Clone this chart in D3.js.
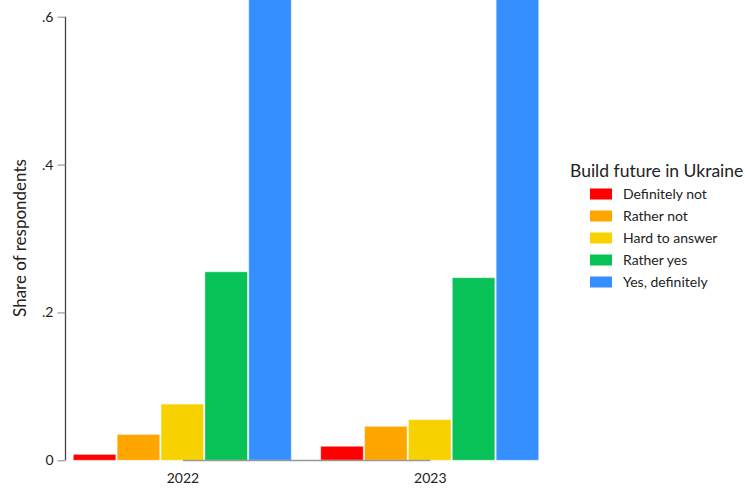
<!DOCTYPE html>
<html><head><meta charset="utf-8">
<script src="https://cdn.jsdelivr.net/npm/d3@7"></script>
<style>body{margin:0;background:#fff}svg{display:block}text{font-family:Lato,"Open Sans",sans-serif;fill:#222}</style>
</head><body>
<script>
const years = ["2022", "2023"];
const categories = ["Definitely not", "Rather not", "Hard to answer", "Rather yes", "Yes, definitely"];
const values2022 = [0.008, 0.035, 0.076, 0.255, 0.626];
const values2023 = [0.019, 0.046, 0.055, 0.247, 0.633];
const colors = ["#ff0000", "#ffa500", "#f8d100", "#08c157", "#358fff"];
const yTicks = [0, 0.2, 0.4, 0.6];
const yTickLabels = ["0", ".2", ".4", ".6"];
const seriesByYear = {"2022": values2022, "2023": values2023};

const W = 745, H = 489;
const svg = d3.select("body").append("svg").attr("width", W).attr("height", H);

const x0 = d3.scaleBand().domain(years).range([73.3, 540]).paddingInner(0.1136).paddingOuter(0);
const x1 = d3.scaleBand().domain(categories).range([0, x0.bandwidth()]).padding(0);
const y = d3.scaleLinear().domain([0, 0.6]).range([460.3, 16.7]);
const color = d3.scaleOrdinal().domain(categories).range(colors);

// bars
const groups = svg.append("g").selectAll("g").data(years).join("g")
  .attr("transform", d => `translate(${x0(d)},0)`);
groups.selectAll("rect").data(yr => categories.map((c, i) => ({c, v: seriesByYear[yr][i]})))
  .join("rect")
  .attr("x", d => x1(d.c))
  .attr("width", x1.bandwidth() - 1.3)
  .attr("y", d => y(d.v))
  .attr("height", d => y(0) - y(d.v))
  .attr("fill", d => color(d.c))
  .attr("stroke", "rgba(255,255,255,0.45)")
  .attr("stroke-width", 1);

// x axis line between category ticks
const xc = d => x0(d) + x0.bandwidth() / 2;
svg.append("line")
  .attr("x1", xc(years[0])).attr("x2", xc(years[1]))
  .attr("y1", 460.5).attr("y2", 460.5)
  .attr("stroke", "#999").attr("stroke-width", 1.5);
svg.append("g").selectAll("text").data(years).join("text")
  .attr("x", d => xc(d)).attr("y", 483)
  .attr("text-anchor", "middle").attr("font-size", 14)
  .text(d => d);

// y axis
const yAxis = d3.axisLeft(y).tickValues(yTicks).tickFormat((d, i) => yTickLabels[i]).tickSize(8).tickPadding(4);
const ya = svg.append("g").attr("transform", "translate(65.5,0)").call(yAxis);
ya.select(".domain").attr("stroke", "#444").attr("stroke-width", 1.3).attr("d", `M0,${y(0.6)}V${y(0)}`);
ya.selectAll(".tick line").attr("stroke", "#888");
ya.selectAll(".tick text").attr("font-size", 14).attr("font-family", "Lato, sans-serif").attr("fill", "#222");

svg.append("text")
  .attr("transform", `translate(26,238) rotate(-90)`)
  .attr("text-anchor", "middle").attr("font-size", 17)
  .text("Share of respondents");

// legend
const lg = svg.append("g");
lg.append("text").attr("x", 570).attr("y", 177).attr("font-size", 17.5).text("Build future in Ukraine");
const item = lg.selectAll("g").data(categories).join("g")
  .attr("transform", (d, i) => `translate(590,${194 + i * 22})`);
item.append("rect").attr("x", 0).attr("y", -5.5).attr("width", 22).attr("height", 11)
  .attr("fill", d => color(d));
item.append("text").attr("x", 33).attr("y", 5).attr("font-size", 14).text(d => d);
</script>
</body></html>
